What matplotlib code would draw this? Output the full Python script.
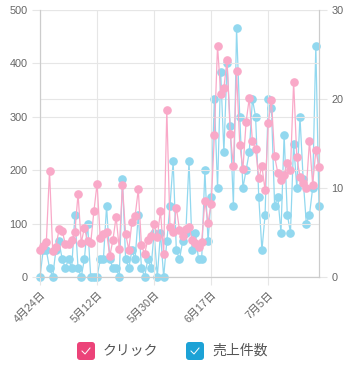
import pandas as pd
import matplotlib
matplotlib.use('Agg')
import matplotlib.pyplot as plt
import matplotlib.transforms as mtransforms
from matplotlib.patches import FancyBboxPatch

plt.rcParams['font.family'] = ['Liberation Sans', 'Noto Sans CJK JP']

# data (one value per day)
start_date = '2023-04-24'
clicks = [50, 58, 66, 199, 49, 56, 89, 87, 61, 62, 69, 84, 156, 64, 92, 67, 64, 123,
          175, 73, 80, 84, 39, 69, 113, 53, 172, 81, 51, 103, 114, 164, 59, 43, 70, 76,
          100, 74, 124, 43, 313, 94, 85, 130, 88, 76, 89, 94, 69, 63, 57, 66, 142, 102,
          137, 266, 433, 343, 354, 407, 268, 208, 385, 248, 202, 290, 335, 254, 240, 185,
          207, 162, 288, 332, 226, 195, 182, 191, 214, 201, 366, 224, 188, 176, 166, 255,
          173, 237, 206]
sales = [0, 3, 3, 1, 0, 3, 4, 2, 1, 2, 1, 7, 1, 0, 2, 6, 0, 0,
         0, 2, 2, 8, 2, 1, 1, 0, 11, 2, 1, 3, 2, 7, 1, 0, 2, 1,
         5, 0, 5, 0, 4, 8, 13, 3, 2, 4, 5, 13, 3, 5, 2, 2, 12, 4,
         9, 20, 10, 23, 14, 24, 17, 8, 28, 18, 10, 12, 14, 20, 18, 9,
         3, 7, 20, 19, 8, 9, 5, 16, 7, 5, 15, 10, 18, 11, 6, 7,
         10, 26, 8]
series_names = ['クリック', '売上件数']
left_ticks = [0, 100, 200, 300, 400, 500]
right_ticks = [0, 10, 20, 30]
tick_step = 18

pink = '#F9A9C8'
blue = '#92D8EF'
pink_legend = '#EC4379'
blue_legend = '#1CA2D6'
grid_c = '#E6E6E6'
axis_c = '#CCCCCC'
label_c = '#666666'

dates = pd.date_range(start_date, periods=len(clicks))

fig = plt.figure(figsize=(3.49, 3.73), dpi=100)
ax = fig.add_axes([40 / 349, 96 / 373, 279 / 349, 267 / 373])
ax2 = ax.twinx()
ax.set_zorder(2)
ax2.set_zorder(1)
ax.patch.set_visible(False)

ax2.plot(dates, sales, color=blue, lw=0.9, marker='o', ms=5.2,
         mfc=blue, mec=blue, clip_on=False, zorder=3)
ax.plot(dates, clicks, color=pink, lw=0.9, marker='o', ms=5.2,
        mfc=pink, mec=pink, clip_on=False, zorder=3)

ax.set_xlim(dates[0], dates[-1])
ax.set_ylim(0, 500)
ax2.set_ylim(0, 30)
ax.set_yticks(left_ticks)
ax2.set_yticks(right_ticks)

xt = dates[::tick_step]
ax.set_xticks(xt)
ax.set_xticklabels([f'{d.month}月{d.day}日' for d in xt], rotation=45,
                   ha='right', va='top', rotation_mode='anchor')
shift = mtransforms.ScaledTranslation(4 / 100, 0, fig.dpi_scale_trans)
for lbl in ax.get_xticklabels():
    lbl.set_transform(lbl.get_transform() + shift)

ax.grid(True, color=grid_c, lw=0.8)
ax2.grid(True, axis='y', color=grid_c, lw=0.8)
ax2.xaxis.grid(False)

for a in (ax, ax2):
    a.tick_params(length=6, width=0.8, color=grid_c, labelcolor=label_c,
                  labelsize=7.8, pad=3)
    for s in a.spines.values():
        s.set_color(axis_c)
        s.set_linewidth(0.8)
    a.spines['top'].set_visible(False)

# legend drawn in pixel space
lax = fig.add_axes([0, 0, 1, 1])
lax.set_xlim(0, 349)
lax.set_ylim(373, 0)
lax.axis('off')
for x0, col, name in [(77, pink_legend, series_names[0]), (186, blue_legend, series_names[1])]:
    lax.add_patch(FancyBboxPatch((x0, 342), 18, 18, boxstyle='round,pad=0,rounding_size=3',
                                 fc=col, ec='none'))
    lax.plot([x0 + 5, x0 + 8, x0 + 13], [351, 354, 348], color='white', lw=0.7)
    lax.text(x0 + 26, 351, name, ha='left', va='center', fontsize=10, color='#555555')

fig.savefig('out.png', dpi=100)
